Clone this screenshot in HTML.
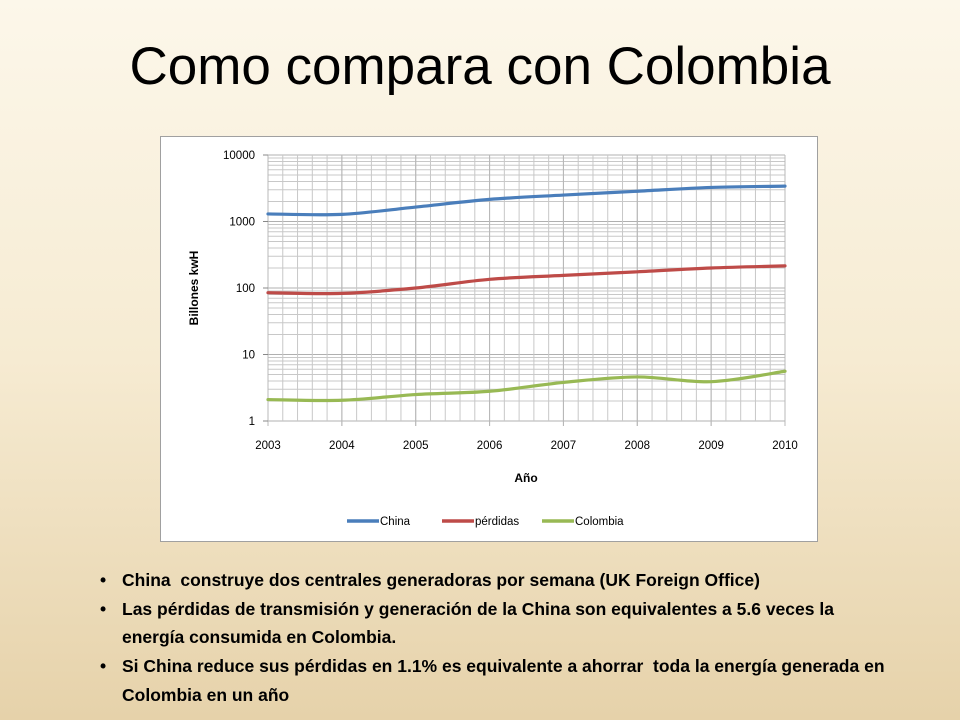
<!DOCTYPE html>
<html><head><meta charset="utf-8"><style>
html,body{margin:0;padding:0}
body{width:960px;height:720px;overflow:hidden;position:relative;background:linear-gradient(#fcf7ea 0%,#f6ebd2 50%,#e6d2aa 100%);font-family:"Liberation Sans",sans-serif}
h1{position:absolute;top:36px;left:0;width:960px;text-align:center;margin:0;font-weight:normal;font-size:53px;color:#000}
#chart{position:absolute;left:160px;top:136px;width:658px;height:406px;background:#fff;border:1px solid #a0a0a0;box-sizing:border-box}
ul{position:absolute;left:100px;top:566px;margin:0;padding:0;list-style:none;font-weight:bold;font-size:17.5px;line-height:28.7px;width:800px}
li{position:relative;padding-left:22px}
li:before{content:"•";position:absolute;left:0}
</style></head><body>
<h1>Como compara con Colombia</h1>
<div id="chart">
<svg id="svg" width="658" height="406" viewBox="160 136 658 406"></svg>
</div>
<ul>
<li>China&nbsp; construye dos centrales generadoras por semana (UK Foreign Office)</li>
<li>Las pérdidas de transmisión y generación de la China son equivalentes a 5.6 veces la energía consumida en Colombia.</li>
<li>Si China reduce sus pérdidas en 1.1% es equivalente a ahorrar&nbsp; toda la energía generada en Colombia en un año</li>
</ul>
<script>
const years=[2003,2004,2005,2006,2007,2008,2009,2010];
const china=[1300,1280,1650,2150,2500,2850,3250,3400];
const perdidas=[85,83,100,135,155,175,200,215];
const colombia=[2.1,2.05,2.5,2.8,3.8,4.6,3.9,5.6];
const yTicks=[1,10,100,1000,10000];
const seriesNames=["China","pérdidas","Colombia"];
const colors=["#4a7ebb","#be4b48","#98b954"];
const NS="http://www.w3.org/2000/svg";
const svg=document.getElementById('svg');
const X0=267,X1=784,Y0=420,Y1=154;
function x(v){return X0+(v-years[0])/(years[years.length-1]-years[0])*(X1-X0);}
function y(v){return Y0-Math.log10(v)/4*(Y0-Y1);}
function mk(t,a){const e=document.createElementNS(NS,t);for(const k in a)e.setAttribute(k,a[k]);svg.appendChild(e);return e;}
for(let d=0;d<4;d++)for(let m=1;m<=10;m++){const v=m*Math.pow(10,d);const l=mk('line',{x1:X0,x2:X1,y1:y(v),y2:y(v),stroke:m==1||m==10?'#b0b0b0':'#c8c8c8','stroke-width':1});
}
for(let i=0;i<years.length-1;i++)for(let k=0;k<=5;k++){const xv=x(years[i])+k*(x(years[i+1])-x(years[i]))/5;const l=mk('line',{x1:xv,x2:xv,y1:Y1,y2:Y0+(k==0||k==5?5:0),stroke:k==0||k==5?'#b8b8b8':'#c8c8c8','stroke-width':1});
}
yTicks.forEach(v=>{const t=mk('text',{x:X0-13,y:y(v)+4,'text-anchor':'end','font-size':11.5,fill:'#000'});t.textContent=v;

const tk=mk('line',{x1:X0-5,x2:X0,y1:y(v),y2:y(v),stroke:'#888'});});
years.forEach(v=>{const t=mk('text',{x:x(v),y:Y0+28,'text-anchor':'middle','font-size':11.5,fill:'#000'});t.textContent=v;
});
let t=mk('text',{x:525,y:481,'text-anchor':'middle','font-size':12,'font-weight':'bold'});t.textContent='Año';

t=mk('text',{x:0,y:0,'text-anchor':'middle','font-size':12,'font-weight':'bold',transform:'translate(197,287) rotate(-90)'});t.textContent='Billones  kwH';

function path(vals){const p=vals.map((v,i)=>[x(years[i]),y(v)]);let d='M'+p[0][0]+','+p[0][1];
for(let i=0;i<p.length-1;i++){const a=p[i-1]||p[i],b=p[i],c=p[i+1],e=p[i+2]||c;
d+=' C'+(b[0]+(c[0]-a[0])/6)+','+(b[1]+(c[1]-a[1])/6)+' '+(c[0]-(e[0]-b[0])/6)+','+(c[1]-(e[1]-b[1])/6)+' '+c[0]+','+c[1];}return d;}
[china,perdidas,colombia].forEach((s,i)=>{const l=mk('path',{d:path(s),fill:'none',stroke:colors[i],'stroke-width':3.2,'stroke-linecap':'round'});
});
const lx=[346,441,541];
seriesNames.forEach((n,i)=>{const l=mk('line',{x1:lx[i],x2:lx[i]+32,y1:520,y2:520,stroke:colors[i],'stroke-width':3.5});

const tx=mk('text',{x:lx[i]+33,y:524,'font-size':11.5});tx.textContent=n;
});
</script>
</body></html>
